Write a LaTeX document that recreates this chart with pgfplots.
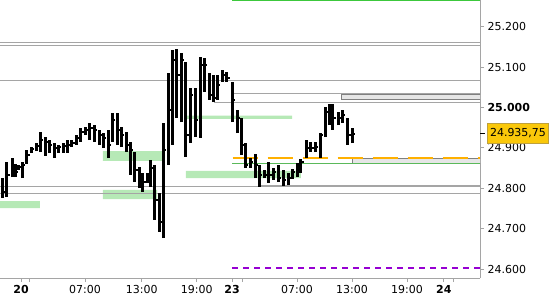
\documentclass[border=0pt]{standalone}
\usepackage{fontspec}
\setmainfont{DejaVu Sans}
\usepackage{pgfplots}
\usepackage{pgfplotstable}
\pgfplotsset{compat=1.18}
\definecolor{zone}{RGB}{182,233,182}
\definecolor{axgray}{RGB}{165,165,165}
\definecolor{lvl}{RGB}{165,165,165}
\definecolor{orng}{RGB}{255,176,0}
\definecolor{grn}{RGB}{90,185,90}
\definecolor{topgrn}{RGB}{60,200,60}
\definecolor{purp}{RGB}{150,0,210}
\definecolor{gold}{RGB}{250,200,10}
\definecolor{goldb}{RGB}{190,160,60}
\definecolor{boxg}{RGB}{230,230,230}

\pgfplotstableread{
x high low close
-2.07 24825.7 24776.3 24791.1
-1.53 24865.3 24778.7 24833.2
-0.98 24875.2 24828.2 24857.9
-0.60 24860.4 24828.2 24840.6
-0.22 24857.9 24845.5 24853.0
0.16 24865.3 24825.7 24857.9
0.65 24895.0 24860.4 24882.6
1.15 24902.4 24887.6 24897.5
1.64 24912.3 24892.5 24904.9
2.13 24939.5 24890.0 24919.7
2.62 24927.1 24880.2 24914.8
3.11 24919.7 24887.6 24907.4
3.60 24912.3 24875.2 24900.0
4.09 24907.4 24887.6 24902.4
4.58 24912.3 24887.6 24904.9
5.07 24919.7 24887.6 24907.4
5.56 24919.7 24902.4 24912.3
6.05 24932.1 24907.4 24924.7
6.54 24949.4 24914.8 24939.5
7.03 24951.9 24932.1 24944.5
7.52 24961.8 24919.7 24949.4
8.02 24956.8 24914.8 24944.5
8.51 24944.5 24907.4 24932.1
9.00 24937.0 24900.0 24924.7
9.49 24944.5 24875.2 24907.4
9.98 24986.5 24914.8 24969.2
10.47 24986.5 24907.4 24944.5
10.96 24951.9 24902.4 24932.1
11.45 24939.5 24890.0 24907.4
11.94 24914.8 24833.2 24895.0
12.43 24890.0 24815.8 24845.5
12.92 24853.0 24801.0 24820.8
13.30 24838.1 24791.1 24815.8
13.74 24838.1 24813.4 24825.7
14.12 24870.3 24803.5 24850.5
14.61 24857.9 24721.9 24771.3
15.05 24788.6 24692.2 24716.9
15.54 24961.8 24677.3 24895.0
16.03 25085.4 24857.9 24993.9
16.47 25142.3 24907.4 25117.6
17.01 25144.8 24974.1 25080.5
17.50 25134.9 24964.2 25117.6
17.99 25112.6 24877.7 24932.1
18.48 25048.3 24912.3 25031.0
18.98 25048.3 24927.1 24969.2
19.52 25125.0 24924.7 25105.2
20.01 25122.5 25038.5 25105.2
20.50 25085.4 25018.7 25031.0
20.94 25080.5 25013.7 25023.6
21.43 25080.5 25018.7 25055.8
21.97 25092.9 25063.2 25080.5
22.46 25087.9 25063.2 25073.1
23.06 25063.2 24964.2 25018.7
23.56 24993.9 24937.0 24974.1
24.05 24974.1 24882.6 24907.4
24.48 24912.3 24850.5 24857.9
25.03 24875.2 24850.5 24865.3
25.52 24885.1 24825.7 24857.9
26.01 24857.9 24803.5 24833.2
26.50 24845.5 24825.7 24833.2
27.04 24865.3 24813.4 24833.2
27.48 24850.5 24820.8 24840.6
28.03 24857.9 24815.8 24825.7
28.57 24845.5 24806.0 24820.8
29.12 24838.1 24808.4 24825.7
29.55 24848.0 24823.3 24840.6
30.10 24862.8 24828.2 24850.5
30.53 24872.7 24838.1 24865.3
31.08 24919.7 24875.2 24900.0
31.62 24914.8 24890.0 24900.0
32.06 24914.8 24890.0 24902.4
32.66 24937.0 24875.2 24932.1
33.15 25001.3 24927.1 24989.0
33.59 25008.8 24956.8 24993.9
34.02 25008.8 24944.5 24974.1
34.62 24989.0 24956.8 24974.1
35.06 24993.9 24961.8 24981.6
35.61 24974.1 24907.4 24932.1
36.15 24949.4 24912.3 24935.75
}\bars

\begin{document}
\begin{tikzpicture}
\begin{axis}[
  at={(0,0)}, anchor=north west,
  scale only axis, width=480bp, height=278bp,
  xmin=-2.29, xmax=50.05, ymin=24578.4, ymax=25266,
  axis x line*=bottom, axis y line*=right,
  axis line style={axgray, line width=1bp},
  tick align=outside, major tick length=4bp,
  tick style={axgray, line width=1bp},
  xtick={0,0.98,6.98,13.16,19.16,23.01,24.1,30.1,36.1,42.1,46.1,47.2},
  xticklabels={\textbf{20},{},07:00,13:00,19:00,\textbf{23},{},07:00,13:00,19:00,\textbf{24},{}},
  ytick={24600,24700,24800,24900,25000,25100,25200},
  yticklabels={24.600,24.700,24.800,24.900,\textbf{25.000},25.100,25.200},
  ticklabel style={font=\fontsize{11bp}{13bp}\selectfont, text=black},
  yticklabel style={anchor=west},
  clip mode=individual,
]
% zones
\addplot[fill=zone, draw=none, forget plot] coordinates {(-2.29,24768.8) (2.07,24768.8) (2.07,24751.5) (-2.29,24751.5) (-2.29,24768.8)};
\addplot[fill=zone, draw=none, forget plot] coordinates {(8.94,24892.5) (15.38,24892.5) (15.38,24867.8) (8.94,24867.8) (8.94,24892.5)};
\addplot[fill=zone, draw=none, forget plot] coordinates {(8.94,24796.1) (14.83,24796.1) (14.83,24773.8) (8.94,24773.8) (8.94,24796.1)};
\addplot[fill=zone, draw=none, forget plot] coordinates {(17.99,24843.1) (30.53,24843.1) (30.53,24825.7) (17.99,24825.7) (17.99,24843.1)};
\addplot[fill=zone, draw=none, forget plot] coordinates {(18.10,24979.8) (29.55,24979.8) (29.55,24971.7) (18.10,24971.7) (18.10,24979.8)};
% grey levels
\addplot[lvl, line width=1bp, forget plot] coordinates {(-2.29,25160) (50.05,25160)};
\addplot[lvl, line width=1bp, forget plot] coordinates {(-2.29,25154) (50.05,25154)};
\addplot[lvl, line width=1bp, forget plot] coordinates {(-2.29,25067.4) (50.05,25067.4)};
\addplot[lvl, line width=1bp, forget plot] coordinates {(23.01,25035.2) (50.05,25035.2)};
\addplot[lvl, line width=1bp, forget plot] coordinates {(21.05,25012.9) (50.05,25012.9)};
\addplot[fill=boxg, draw=gray, line width=1bp, forget plot] coordinates {(35.0,25032.8) (50.5,25032.8) (50.5,25020.4) (35.0,25020.4) (35.0,25032.8)};
\addplot[lvl, line width=1bp, forget plot] coordinates {(-2.29,24803.5) (50.05,24803.5)};
\addplot[lvl, line width=1bp, forget plot] coordinates {(-2.29,24788.6) (50.05,24788.6)};
\addplot[lvl, line width=1bp, forget plot] coordinates {(26.06,24807.8) (50.05,24807.8)};
% right-side levels
\addplot[topgrn, line width=1.6bp, forget plot] coordinates {(23.01,25264.5) (50.05,25264.5)};
\addplot[fill=boxg, draw=gray, line width=1bp, forget plot] coordinates {(36.17,24874.5) (50.5,24874.5) (50.5,24862.1) (36.17,24862.1) (36.17,24874.5)};
\addplot[grn, line width=1bp, forget plot] coordinates {(23.01,24862.1) (50.05,24862.1)};
\addplot[orng, line width=1.1bp, dash pattern=on 25bp off 10bp, forget plot] coordinates {(23.08,24875.2) (50.05,24875.2)};
\addplot[purp, line width=1.2bp, dash pattern=on 6bp off 5bp, forget plot] coordinates {(23.01,24603.1) (50.05,24603.1)};
% OHLC bars
\addplot[draw=none, mark=none, forget plot,
  error bars/.cd, y dir=plus, y explicit, error mark=none,
  error bar style={draw=black, line width=3bp}]
  table[x=x, y=low, y error expr=\thisrow{high}-\thisrow{low}] {\bars};
\addplot[draw=none, mark=none, forget plot,
  error bars/.cd, x dir=plus, x explicit, error mark=none,
  error bar style={draw=black, line width=2bp}]
  table[x=x, y=close, x error expr=0.32] {\bars};
\coordinate (lastp) at (axis cs:50.05,24935.75);
\end{axis}
\draw[black, line width=1.2bp] (lastp) -- ++(5bp,0);
\node[fill=gold, draw=goldb, line width=1bp, anchor=west, inner sep=0pt,
  minimum width=61bp, minimum height=20bp,
  font=\fontsize{11bp}{13bp}\selectfont] at ([xshift=7bp]lastp) {24.935,75};
\pgfresetboundingbox
\path[use as bounding box] (0,0) rectangle (550bp,-300bp);
\end{tikzpicture}
\end{document}
